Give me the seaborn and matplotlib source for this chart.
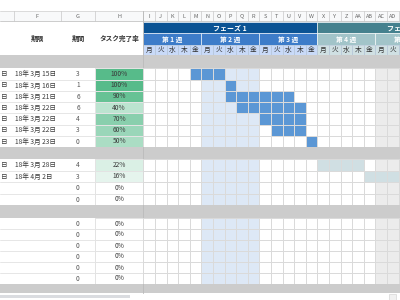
import numpy as np
import matplotlib
matplotlib.use("Agg")
import matplotlib.pyplot as plt
from matplotlib.colors import ListedColormap, LinearSegmentedColormap
from matplotlib.patches import Rectangle
import seaborn as sns

# ---------------- data ----------------
phases = ["フェーズ 1", "フェーズ 2"]
weeks = ["第 1 週", "第 2 週", "第 3 週", "第 4 週", "第 5 週"]
days = ["月", "火", "水", "木", "金"]
col_letters = ["I", "J", "K", "L", "M", "N", "O", "P", "Q", "R", "S", "T", "U",
               "V", "W", "X", "Y", "Z", "AA", "AB", "AC", "AD", "AE"]
left_letters = ["F", "G", "H"]
left_headers = ["期限", "期間", "タスク完了率"]

a_end = ["18年 3月 15日", "18年 3月 16日", "18年 3月 21日", "18年 3月 22日",
         "18年 3月 22日", "18年 3月 22日", "18年 3月 23日"]
a_dur = [3, 1, 6, 6, 4, 3, 0]
a_pct = [100, 100, 90, 40, 70, 60, 50]
a_start = [4, 7, 7, 8, 10, 11, 14]

b_end = ["18年 3月 28日", "18年 4月 2日", "", ""]
b_dur = [4, 3, 0, 0]
b_pct = [22, 16, 0, 0]
b_start = [15, 19, None, None]

c_end = ["", "", "", "", "", ""]
c_dur = [0, 0, 0, 0, 0, 0]
c_pct = [0, 0, 0, 0, 0, 0]
c_start = [None, None, None, None, None, None]

# ---------------- layout (pixels) ----------------
W, H = 400, 300
GX0, CW = 143.3, 11.6          # gantt start, column width
NCOL = len(col_letters)
highlight_cols = range(5, 10)   # current week (第 2 週)
future_from = 20                # shaded columns
blocks = [
    dict(y0=68.3, y1=147.0, end=a_end, dur=a_dur, pct=a_pct, start=a_start, bar=3),
    dict(y0=159.0, y1=205.0, end=b_end, dur=b_dur, pct=b_pct, start=b_start, bar=4),
    dict(y0=218.0, y1=284.0, end=c_end, dur=c_dur, pct=c_pct, start=c_start, bar=4),
]
gray_rows = [(55, 68.3), (147, 159), (205, 218), (284, 293)]

FONT = ["Noto Sans CJK JP", "DejaVu Sans"]
sns.set_theme(style="white")
plt.rcParams["font.family"] = FONT

fig = plt.figure(figsize=(4, 3), dpi=100)
base = fig.add_axes([0, 0, 1, 1])
base.set_xlim(0, W)
base.set_ylim(H, 0)
base.axis("off")


def frac(x, y, w, h):
    return [x / W, 1 - (y + h) / H, w / W, h / H]


def rect(x, y, w, h, fc, ec="none", lw=0, z=1):
    base.add_patch(Rectangle((x, y), w, h, facecolor=fc, edgecolor=ec, lw=lw, zorder=z))


# column letter row
rect(0, 11, W, 10, "#f8f9fa", z=1)
base.plot([0, W], [11, 11], color="#d6d6d6", lw=0.6, zorder=3)
base.plot([0, W], [21, 21], color="#c4c4c4", lw=0.6, zorder=3)
left_edges = [14, 61, 95, 143.3]
for x in left_edges:
    base.plot([x, x], [11, 21], color="#c8c8c8", lw=0.5, zorder=3)
for i, lab in enumerate(left_letters):
    cx = (left_edges[i] + left_edges[i + 1]) / 2
    base.text(cx, 16.2, lab, ha="center", va="center", fontsize=4, color="#666666", zorder=4)
for i, lab in enumerate(col_letters):
    x = GX0 + i * CW
    base.plot([x, x], [11, 21], color="#c8c8c8", lw=0.5, zorder=3)
    base.text(x + CW / 2, 16.2, lab, ha="center", va="center", fontsize=4, color="#666666", zorder=4)

# left headers
for i, lab in enumerate(left_headers):
    cx = (left_edges[i] + left_edges[i + 1]) / 2
    base.text(cx, 38.5, lab, ha="center", va="center", fontsize=4.8,
              fontweight="bold", color="#333333", zorder=4)

# phase / week / day header rows
phase_cols = [("#0b5394", "#3d7cc9", "#c9daf8"), ("#45818e", "#a2c4c9", "#d0e0e3")]
for p, lab in enumerate(phases):
    x = GX0 + p * 15 * CW
    rect(x, 22.3, 15 * CW, 11.0, phase_cols[p][0], ec="white", lw=0.4, z=2)
    base.text(x + 7.5 * CW, 28.0, lab, ha="center", va="center", fontsize=5,
              fontweight="bold", color="white", zorder=4)
for w, lab in enumerate(weeks):
    x = GX0 + w * 5 * CW
    pc = phase_cols[0 if w < 3 else 1]
    rect(x, 33.3, 5 * CW, 11.7, pc[1], ec="white", lw=0.4, z=2)
    base.text(x + 2.5 * CW, 39.3, lab, ha="center", va="center", fontsize=4.8,
              fontweight="bold", color="white", zorder=4)
for i in range(NCOL):
    x = GX0 + i * CW
    pc = phase_cols[0 if i < 15 else 1]
    rect(x, 45, CW, 10, pc[2], ec="#aebfd3", lw=0.4, z=2)
    base.text(x + CW / 2, 50.2, days[i % 5], ha="center", va="center", fontsize=4.8,
              color="#333333", zorder=4)

# gray separator rows
for y0, y1 in gray_rows:
    rect(0, y0, W, y1 - y0, "#cccccc", z=5)

# body blocks
bar_cmap = ListedColormap(["#ffffff", "#dde8f6", "#ececec", "#5b97d5", "#d0dfe3"])
pct_cmap = LinearSegmentedColormap.from_list("pct", ["#ffffff", "#57bb8a"])

for b in blocks:
    n = len(b["dur"])
    y0, y1 = b["y0"], b["y1"]
    rh = (y1 - y0) / n
    # gantt grid
    grid = np.zeros((n, NCOL))
    grid[:, list(highlight_cols)] = 1
    grid[:, future_from:] = 2
    for r in range(n):
        s = b["start"][r]
        if s is not None:
            length = max(b["dur"][r], 1)
            grid[r, s:s + length] = b["bar"]
    gax = fig.add_axes(frac(GX0, y0, NCOL * CW, y1 - y0))
    sns.heatmap(grid, ax=gax, cmap=bar_cmap, vmin=-0.5, vmax=4.5, cbar=False,
                linewidths=0.5, linecolor="#dadada", xticklabels=False, yticklabels=False)
    gax.axis("off")
    # percent column
    pct = np.array(b["pct"], dtype=float).reshape(-1, 1)
    labels = np.array([f"{v}%" for v in b["pct"]]).reshape(-1, 1)
    pax = fig.add_axes(frac(95, y0, GX0 - 95, y1 - y0))
    sns.heatmap(pct, ax=pax, cmap=pct_cmap, vmin=0, vmax=100, cbar=False,
                annot=labels, fmt="", annot_kws=dict(fontsize=4.8, color="#3a3a3a"),
                linewidths=0.5, linecolor="#e3e3e3", xticklabels=False, yticklabels=False)
    pax.axis("off")
    # left text columns
    for r in range(n):
        yc = y0 + (r + 0.5) * rh
        base.plot([0, 95], [y0 + (r + 1) * rh, y0 + (r + 1) * rh], color="#e2e2e2", lw=0.6, zorder=2)
        if b["end"][r]:
            base.text(7.5, yc + 0.3, "日", ha="right", va="center", fontsize=4.8, color="#3a3a3a", zorder=4)
            base.text(15, yc + 0.3, b["end"][r], ha="left", va="center", fontsize=4.8,
                      color="#3a3a3a", zorder=4)
        base.text(78, yc + 0.3, str(b["dur"][r]), ha="center", va="center", fontsize=4.8,
                  color="#555555", zorder=4)

# frozen-pane border
base.plot([GX0, GX0], [11, 293], color="#bdbdbd", lw=0.7, zorder=6)

# scrollbar
rect(0, 294.5, 130, 3.5, "#dadce0", z=6)
rect(389, 293.5, 7, 6, "#f1f1f1", ec="#cfcfcf", lw=0.4, z=6)

fig.savefig("out.png", dpi=100)
